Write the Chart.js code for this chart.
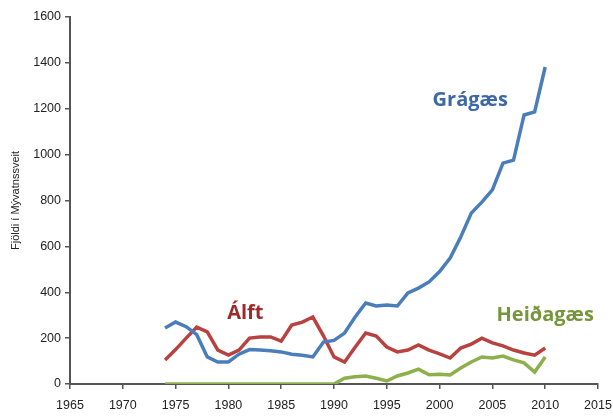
<!DOCTYPE html>
<html>
<head>
<meta charset="utf-8">
<script src="https://cdn.jsdelivr.net/npm/chart.js@4/dist/chart.umd.min.js"></script>
<style>
    html, body { margin: 0; padding: 0; background: #fff; }
    #wrap { width: 613px; height: 417px; }
</style>
</head>
<body>
<div id="wrap"><canvas id="geeseChart"></canvas></div>
<script>
const years = [1974, 1975, 1976, 1977, 1978, 1979, 1980, 1981, 1982, 1983, 1984, 1985, 1986, 1987, 1988, 1989, 1990, 1991, 1992,
    1993, 1994, 1995, 1996, 1997, 1998, 1999, 2000, 2001, 2002, 2003, 2004, 2005, 2006, 2007, 2008, 2009, 2010];

const gragaes = [244, 270, 250, 215, 118, 96, 96, 130, 150, 148, 145, 140, 130, 125, 118, 183, 190, 222, 292,
    353, 340, 344, 340, 397, 418, 445, 490, 549, 641, 745, 793, 846, 963, 976, 1173, 1186, 1382];

const alft = [105, 150, 200, 248, 227, 148, 126, 148, 200, 205, 205, 187, 257, 270, 292, 210, 118, 96, 160,
    222, 209, 161, 140, 148, 170, 148, 131, 113, 157, 174, 200, 179, 166, 148, 135, 126, 157];

const heidagaes = [0, 0, 0, 0, 0, 0, 0, 0, 0, 0, 0, 0, 0, 0, 0, 0, 0, 25, 32,
    35, 25, 13, 35, 48, 65, 40, 42, 39, 70, 96, 118, 113, 122, 105, 92, 52, 118];

const xTicks = [1965, 1970, 1975, 1980, 1985, 1990, 1995, 2000, 2005, 2010, 2015];
const yTicks = [0, 200, 400, 600, 800, 1000, 1200, 1400, 1600];

// series name, where its label sits (in data units), colours
const seriesLabels = [
    { text: 'Grágæs', x: 2002.9, y: 1238, color: '#3d68a6' },
    { text: 'Álft', x: 1981.6, y: 310, color: '#9e2a2b' },
    { text: 'Heiðagæs', x: 2010, y: 300, color: '#76963c' }
];

const toPoints = (values) => values.map((v, i) => ({ x: years[i], y: v }));

const lineStyle = {
    borderWidth: 3.5,
    pointRadius: 0,
    tension: 0,
    fill: false
};

// draws the in-chart series names
const seriesLabelPlugin = {
    id: 'seriesLabels',
    afterDatasetsDraw(chart) {
        const { ctx, scales } = chart;
        ctx.save();
        ctx.font = 'bold 20px "Open Sans", "Liberation Sans", sans-serif';
        ctx.textAlign = 'center';
        ctx.textBaseline = 'middle';
        seriesLabels.forEach(label => {
            ctx.fillStyle = label.color;
            ctx.fillText(label.text, scales.x.getPixelForValue(label.x), scales.y.getPixelForValue(label.y));
        });
        ctx.restore();
    }
};

const axisColor = '#555555';
const tickFont = { family: '"Liberation Sans", "Open Sans", sans-serif', size: 12.5 };

new Chart(document.getElementById('geeseChart'), {
    type: 'line',
    data: {
        datasets: [
            { label: 'Grágæs', data: toPoints(gragaes), borderColor: '#4a7ebb', ...lineStyle },
            { label: 'Álft', data: toPoints(alft), borderColor: '#b8423f', ...lineStyle },
            { label: 'Heiðagæs', data: toPoints(heidagaes), borderColor: '#8db04c', ...lineStyle }
        ]
    },
    options: {
        responsive: true,
        maintainAspectRatio: false,
        animation: false,
        layout: { padding: { top: 17, right: 15, left: 9, bottom: 0 } },
        plugins: {
            legend: { display: false },
            tooltip: { enabled: false }
        },
        scales: {
            x: {
                type: 'linear',
                min: 1965,
                max: 2015,
                afterBuildTicks: scale => { scale.ticks = xTicks.map(v => ({ value: v })); },
                afterFit: scale => {
                    scale.height = 33;
                    scale.paddingLeft = 0;
                    scale.paddingRight = 0;
                },
                ticks: { color: '#222', font: tickFont, padding: 9, maxRotation: 0, callback: v => String(v) },
                grid: { drawOnChartArea: false, drawTicks: true, tickLength: 5, color: axisColor, lineWidth: 1.5 },
                border: { display: true, color: axisColor, width: 2 }
            },
            y: {
                min: 0,
                max: 1600,
                afterBuildTicks: scale => { scale.ticks = yTicks.map(v => ({ value: v })); },
                afterFit: scale => {
                    scale.width = 61;
                    scale.paddingTop = 0;
                    scale.paddingBottom = 0;
                },
                ticks: { color: '#222', font: tickFont, padding: 4, callback: v => String(v) },
                grid: { drawOnChartArea: false, drawTicks: true, tickLength: 5, color: axisColor, lineWidth: 1.5 },
                border: { display: true, color: axisColor, width: 2 },
                title: {
                    display: true,
                    text: 'Fjöldi í Mývatnssveit',
                    color: '#222',
                    font: { family: '"Liberation Sans", "Open Sans", sans-serif', size: 11 },
                    padding: 0
                }
            }
        }
    },
    plugins: [seriesLabelPlugin]
});
</script>
</body>
</html>
